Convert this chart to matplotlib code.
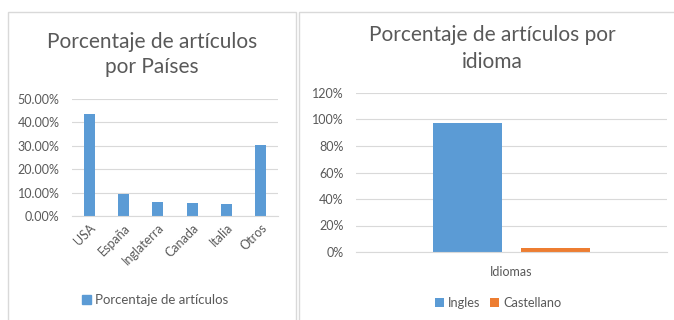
import matplotlib
matplotlib.use("Agg")
import matplotlib.pyplot as plt
from matplotlib.patches import Rectangle, Patch
from matplotlib.ticker import FuncFormatter

# Country share of articles
paises = ["USA", "España", "Inglaterra", "Canada", "Italia", "Otros"]
pct_paises = [0.435, 0.095, 0.058, 0.055, 0.052, 0.305]

# Language share of articles
idiomas = ["Ingles", "Castellano"]
pct_idiomas = [0.97, 0.03]
grupo = "Idiomas"

BLUE = "#5B9BD5"
ORANGE = "#ED7D31"
TEXT = "#595959"
GRID = "#D9D9D9"

plt.rcParams["font.family"] = ["Lato", "DejaVu Sans"]

W, H = 674, 320
fig = plt.figure(figsize=(W / 100, H / 100), dpi=100)
fig.patch.set_facecolor("white")


def px(x0, y0, x1, y1):
    # pixel box (top-left origin) -> figure fraction rect
    return [x0 / W, 1 - y1 / H, (x1 - x0) / W, (y1 - y0) / H]


def title(x, lines, baselines):
    for txt, yb in zip(lines, baselines):
        fig.text(x / W, 1 - yb / H, txt, ha="center", va="baseline",
                 fontsize=15, color=TEXT)


# panel frames
for x0, x1 in [(8, 296), (299, 680)]:
    fig.patches.append(Rectangle((x0 / W, -0.05), (x1 - x0) / W, 1 - 12 / H + 0.05,
                                 transform=fig.transFigure, fill=False,
                                 edgecolor="#D9D9D9", linewidth=1.0))


def style(ax):
    for s in ["top", "right", "left"]:
        ax.spines[s].set_visible(False)
    ax.spines["bottom"].set_color(GRID)
    ax.tick_params(length=0, colors=TEXT, labelsize=9)
    ax.yaxis.grid(True, color=GRID, linewidth=0.8)
    ax.set_axisbelow(True)


# left: by country
ax1 = fig.add_axes(px(72, 99, 278, 216))
ax1.bar(range(len(paises)), pct_paises, width=0.32, color=BLUE)
ax1.set_xlim(-0.5, len(paises) - 0.5)
ax1.set_ylim(0, 0.5)
ax1.set_yticks([0, 0.1, 0.2, 0.3, 0.4, 0.5])
ax1.yaxis.set_major_formatter(FuncFormatter(lambda v, _: f"{v * 100:.2f}%"))
ax1.set_xticks(range(len(paises)))
ax1.set_xticklabels(paises, rotation=45, ha="right", rotation_mode="anchor")
style(ax1)
ax1.tick_params(axis="y", pad=9)
ax1.tick_params(axis="x", pad=4)
ax1.legend(handles=[Patch(color=BLUE, label="Porcentaje de artículos")],
           loc="center", bbox_to_anchor=(155 / W, 1 - 300 / H),
           bbox_transform=fig.transFigure, frameon=False, fontsize=9.5,
           handlelength=0.7, handleheight=0.7, handletextpad=0.3,
           labelcolor=TEXT)
title(152, ["Porcentaje de artículos", "por Países"], [48, 73])

# right: by language
ax2 = fig.add_axes(px(356, 93, 667, 252))
offsets = [-0.142, 0.142]
colors = [BLUE, ORANGE]
for off, v, c, lab in zip(offsets, pct_idiomas, colors, idiomas):
    ax2.bar(off, v, width=0.222, color=c, label=lab)
ax2.set_xlim(-0.5, 0.5)
ax2.set_ylim(0, 1.2)
ax2.set_yticks([0, 0.2, 0.4, 0.6, 0.8, 1.0, 1.2])
ax2.yaxis.set_major_formatter(FuncFormatter(lambda v, _: f"{v * 100:.0f}%"))
ax2.set_xticks([0])
ax2.set_xticklabels([grupo])
style(ax2)
ax2.tick_params(axis="y", pad=9)
ax2.tick_params(axis="x", pad=10)
ax2.legend(loc="center", bbox_to_anchor=(498 / W, 1 - 303 / H),
           bbox_transform=fig.transFigure, frameon=False, fontsize=9.2, ncol=2,
           handlelength=0.7, handleheight=0.7, handletextpad=0.3,
           columnspacing=0.8, labelcolor=TEXT)
title(492, ["Porcentaje de artículos por", "idioma"], [41, 68])

fig.savefig("out.png", dpi=100, facecolor="white")
